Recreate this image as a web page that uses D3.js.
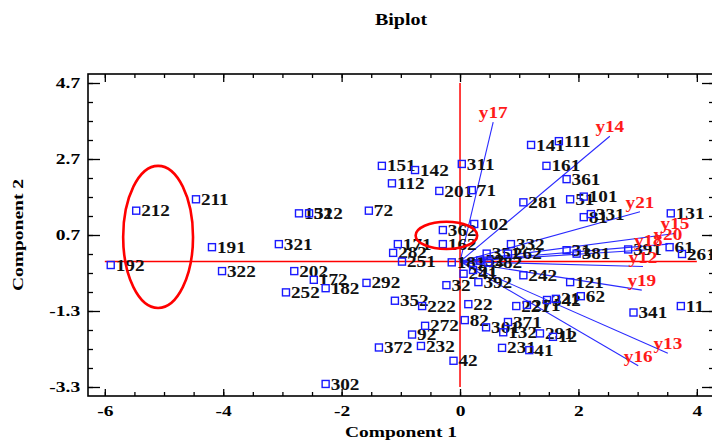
<!DOCTYPE html>
<html>
<head>
<meta charset="utf-8">
<script src="https://cdn.jsdelivr.net/npm/d3@7"></script>
<style>
    body { margin: 0; background: #fff; }
    svg { display: block; }
    text { font-family: "Liberation Serif", "Times New Roman", serif; font-weight: bold; }
</style>
</head>
<body>
<div id="chart"></div>
<script>
var width = 712, height = 440;
var plot = { l: 88, t: 74, r: 714, b: 396 };

//Observation scores (label, component 1, component 2)
var pointLabels = ["212", "211", "191", "192", "322", "321", "152", "312", "72", "151",
    "142", "112", "201", "311", "71", "362", "162", "171", "282", "251",
    "202", "172", "182", "252", "292", "32", "352", "222", "272", "92",
    "372", "232", "42", "302", "22", "82", "301", "371", "132", "291",
    "12", "231", "41", "221", "271", "342", "21", "62", "121", "242",
    "392", "332", "351", "262", "31", "381", "391", "61", "261", "131",
    "331", "81", "51", "101", "281", "361", "161", "141", "111", "102",
    "11", "341", "181", "52", "382", "241", "91"];
var comp1 = [-5.47, -4.46, -4.19, -5.90, -4.02, -3.06, -2.72, -2.55, -1.54, -1.32,
    -0.76, -1.15, -0.35, 0.03, 0.20, -0.29, -0.29, -1.05, -1.13, -0.98,
    -2.80, -2.47, -2.27, -2.94, -1.58, -0.23, -1.10, -0.64, -0.59, -0.81,
    -1.37, -0.66, -0.11, -2.27, 0.14, 0.08, 0.44, 0.81, 0.73, 1.35,
    1.57, 0.71, 1.17, 0.95, 1.13, 1.47, 1.62, 2.04, 1.86, 1.07,
    0.31, 0.86, 0.45, 0.81, 1.80, 1.97, 2.84, 3.54, 3.75, 3.56,
    2.21, 2.09, 1.86, 2.09, 1.07, 1.80, 1.46, 1.20, 1.67, 0.24,
    3.73, 2.93, -0.14, 0.34, 0.48, 0.06, 0.22];
var comp2 = [1.34, 1.64, 0.38, -0.09, -0.25, 0.46, 1.27, 1.27, 1.34, 2.52,
    2.41, 2.06, 1.86, 2.57, 1.88, 0.83, 0.46, 0.46, 0.23, 0.00,
    -0.25, -0.48, -0.70, -0.81, -0.56, -0.62, -1.03, -1.17, -1.69, -1.92,
    -2.26, -2.22, -2.61, -3.22, -1.12, -1.54, -1.73, -1.59, -1.86, -1.89,
    -1.98, -2.27, -2.33, -1.17, -1.14, -1.01, -0.98, -0.91, -0.54, -0.36,
    -0.54, 0.46, 0.21, 0.21, 0.30, 0.21, 0.32, 0.38, 0.20, 1.27,
    1.25, 1.17, 1.64, 1.71, 1.56, 2.17, 2.52, 3.07, 3.17, 0.99,
    -1.17, -1.34, -0.02, 0.03, -0.03, -0.32, -0.22];

//Variable loadings (vectors from origin)
var vectorLabels = ["y17", "y14", "y21", "y15", "y20", "y18", "y12", "y19", "y13", "y16"];
var vectorX = [0.56, 2.53, 3.04, 3.63, 3.51, 3.18, 3.09, 3.07, 3.51, 3.01];
var vectorY = [3.67, 3.30, 1.31, 0.74, 0.46, 0.31, -0.13, -0.75, -2.41, -2.74];

//Tick values
var xMajorTicks = [-6, -4, -2, 0, 2, 4];
var yMajorTicks = [4.7, 2.7, 0.7, -1.3, -3.3];

//Highlight ellipses (component units)
var ellipseCx = [-5.10, -0.23];
var ellipseCy = [0.65, 0.69];
var ellipseRx = [0.59, 0.52];
var ellipseRy = [1.87, 0.36];

var xScale = d3.scaleLinear().domain([-6.284, 4.29]).range([plot.l, plot.r]);
var yScale = d3.scaleLinear().domain([-3.537, 4.937]).range([plot.b, plot.t]);

var xMinor = d3.range(-6, 4.01, 0.5);
var yMinor = d3.range(-3.3, 4.71, 0.5);

var svg = d3.select("#chart")
    .append("svg")
    .attr("width", width)
    .attr("height", height);

svg.append("rect").attr("width", width).attr("height", height).attr("fill", "#fff");

function noDomain(g) { g.select(".domain").remove(); }

//Minor ticks on all four sides (inward)
svg.append("g").attr("transform", `translate(0,${plot.b})`)
    .call(d3.axisBottom(xScale).tickValues(xMinor).tickSize(-4).tickFormat("")).call(noDomain);
svg.append("g").attr("transform", `translate(0,${plot.t})`)
    .call(d3.axisTop(xScale).tickValues(xMinor).tickSize(-4).tickFormat("")).call(noDomain);
svg.append("g").attr("transform", `translate(${plot.l},0)`)
    .call(d3.axisLeft(yScale).tickValues(yMinor).tickSize(-5).tickFormat("")).call(noDomain);
svg.append("g").attr("transform", `translate(${plot.r},0)`)
    .call(d3.axisRight(yScale).tickValues(yMinor).tickSize(-5).tickFormat("")).call(noDomain);

//Major ticks with labels
var xAxisG = svg.append("g").attr("transform", `translate(0,${plot.b})`)
    .call(d3.axisBottom(xScale).tickValues(xMajorTicks).tickSize(-7).tickPadding(9).tickFormat(d => String(d)))
    .call(noDomain);
svg.append("g").attr("transform", `translate(0,${plot.t})`)
    .call(d3.axisTop(xScale).tickValues(xMajorTicks).tickSize(-8).tickFormat("")).call(noDomain);
var yAxisG = svg.append("g").attr("transform", `translate(${plot.l},0)`)
    .call(d3.axisLeft(yScale).tickValues(yMajorTicks).tickSize(-12).tickPadding(6).tickFormat(d => String(d)))
    .call(noDomain);
svg.append("g").attr("transform", `translate(${plot.r},0)`)
    .call(d3.axisRight(yScale).tickValues(yMajorTicks).tickSize(-12).tickFormat("")).call(noDomain);

svg.selectAll(".tick line").attr("stroke", "#000").attr("stroke-width", 1.3);
[xAxisG, yAxisG].forEach(g => g.selectAll("text")
    .attr("fill", "#000")
    .style("font-size", "15px")
    .style("font-family", "'Liberation Serif', serif")
    .style("font-weight", "bold")
    .attr("transform", "scale(1.3,1)"));

//Frame
svg.append("rect")
    .attr("x", plot.l).attr("y", plot.t)
    .attr("width", plot.r - plot.l).attr("height", plot.b - plot.t)
    .attr("fill", "none").attr("stroke", "#000").attr("stroke-width", 1.6);

//Reference lines through origin
var x0 = xScale(0), y0 = yScale(0);
svg.append("line")
    .attr("x1", xScale(d3.min(xMajorTicks))).attr("x2", xScale(d3.max(xMajorTicks)))
    .attr("y1", y0).attr("y2", y0)
    .attr("stroke", "#ff0000").attr("stroke-width", 1.5);
svg.append("line")
    .attr("x1", x0).attr("x2", x0)
    .attr("y1", yScale(d3.min(yMajorTicks))).attr("y2", yScale(d3.max(yMajorTicks)))
    .attr("stroke", "#ff0000").attr("stroke-width", 1.5);

//Vectors
var vectors = vectorLabels.map((name, i) => ({ name: name, vx: vectorX[i], vy: vectorY[i] }));
svg.selectAll(".vec").data(vectors).enter()
    .append("line")
    .attr("class", "vec")
    .attr("x1", x0).attr("y1", y0)
    .attr("x2", d => xScale(d.vx)).attr("y2", d => yScale(d.vy))
    .attr("stroke", "#2a2aff").attr("stroke-width", 1.1);

//Points
var points = pointLabels.map((lab, i) => ({ label: lab, c1: comp1[i], c2: comp2[i] }));

svg.selectAll(".plabel").data(points).enter()
    .append("text")
    .attr("class", "plabel")
    .attr("transform", d => `translate(${xScale(d.c1) + 5},${yScale(d.c2)}) scale(1.2,1)`)
    .attr("dy", "0.35em")
    .attr("fill", "#111")
    .style("font-size", "16px")
    .text(d => d.label);

svg.selectAll(".pt").data(points).enter()
    .append("rect")
    .attr("class", "pt")
    .attr("x", d => xScale(d.c1) - 3.5)
    .attr("y", d => yScale(d.c2) - 3.5)
    .attr("width", 7).attr("height", 7)
    .attr("fill", "none")
    .attr("stroke", "#1a1aff")
    .attr("stroke-width", 1.4);

//Vector labels
svg.selectAll(".vlabel").data(vectors).enter()
    .append("text")
    .attr("class", "vlabel")
    .attr("transform", d => `translate(${xScale(d.vx)},${yScale(d.vy) - 4}) scale(1.2,1)`)
    .attr("text-anchor", "middle")
    .attr("fill", "#ff1a1a")
    .style("font-size", "16px")
    .text(d => d.name);

//Highlight ellipses
svg.selectAll(".ell").data(ellipseCx).enter()
    .append("ellipse")
    .attr("class", "ell")
    .attr("cx", d => xScale(d))
    .attr("cy", (d, i) => yScale(ellipseCy[i]))
    .attr("rx", (d, i) => xScale(ellipseRx[i]) - xScale(0))
    .attr("ry", (d, i) => yScale(0) - yScale(ellipseRy[i]))
    .attr("fill", "none")
    .attr("stroke", "#ff0000")
    .attr("stroke-width", 2.6);

//Titles
svg.append("text")
    .attr("transform", `translate(${(plot.l + plot.r) / 2},25) scale(1.25,1)`)
    .attr("text-anchor", "middle")
    .style("font-size", "16px")
    .text("Biplot");

svg.append("text")
    .attr("transform", `translate(${(plot.l + plot.r) / 2},437) scale(1.3,1)`)
    .attr("text-anchor", "middle")
    .style("font-size", "15px")
    .text("Component 1");

svg.append("text")
    .attr("transform", `translate(23,${(plot.t + plot.b) / 2}) rotate(-90) scale(1.3,1)`)
    .attr("text-anchor", "middle")
    .style("font-size", "15px")
    .text("Component 2");
</script>
</body>
</html>
